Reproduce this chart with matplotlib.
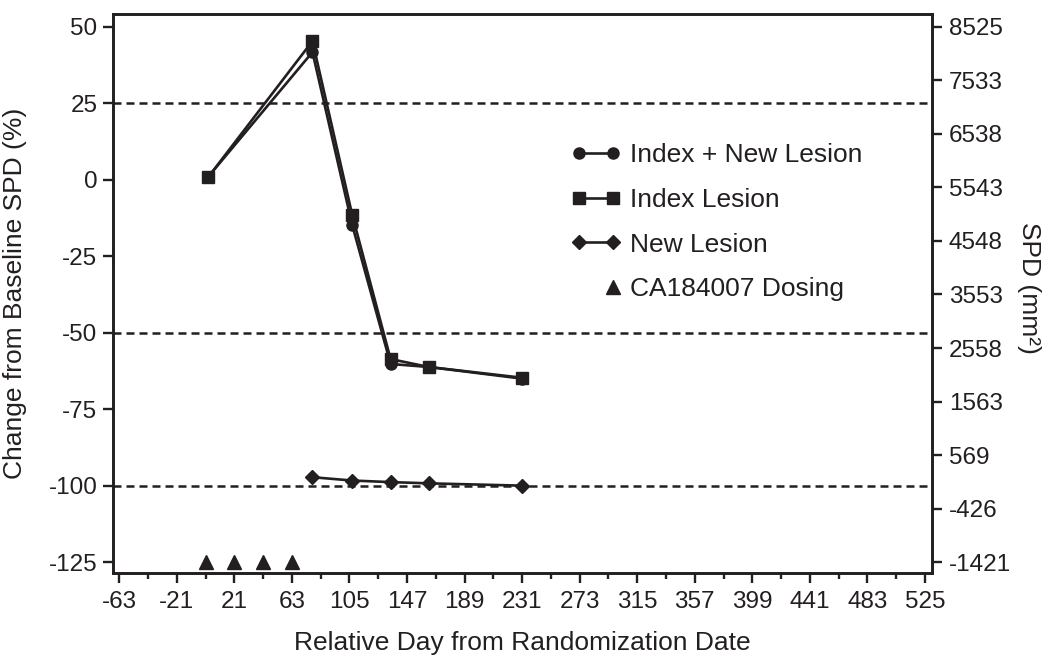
"""Change from baseline SPD over time, with SPD on a second axis."""
import matplotlib
matplotlib.use("Agg")
import matplotlib.pyplot as plt
from matplotlib.legend_handler import HandlerLine2D

plt.rcParams['font.family'] = ['Liberation Sans', 'DejaVu Sans']
plt.rcParams['axes.unicode_minus'] = False

INK = '#231f20'

# values
days = [2, 78, 107, 135, 163, 231]
index_new_pct = [1.0, 41.7, -14.8, -60.2, -61.2, -65.0]
index_pct = [0.9, 45.3, -11.5, -58.6, -61.2, -64.7]

new_days = [78, 107, 135, 163, 231]
new_spd = [159, 97, 68, 45, 2]  # mm^2, right axis

dosing_days = [0, 21, 42, 63]
dosing_level = -125

baseline_spd = 5683.33  # SPD that corresponds to 0 % change

x_ticks = list(range(-63, 526, 42))
pct_ticks = [50, 25, 0, -25, -50, -75, -100, -125]
spd_ticks = [8525, 7533, 6538, 5543, 4548, 3553, 2558, 1563, 569, -426, -1421]
ref_lines = [25, -50, -100]


class RightMarker(HandlerLine2D):
    # single marker at the right end of the legend handle
    def get_xdata(self, legend, xdescent, ydescent, width, height, fontsize):
        x = -xdescent + width - self._marker_pad * fontsize
        return [x], [x]


fig = plt.figure(figsize=(10.58, 6.6), dpi=100)
ax = fig.add_axes([0.1065, 0.1323, 0.7744, 0.8465])
ax2 = ax.twinx()

ylim = (-128.4, 54.15)
ax.set_xlim(-67.8, 530.1)
ax.set_ylim(*ylim)
ax2.set_ylim(baseline_spd * (1 + ylim[0] / 100), baseline_spd * (1 + ylim[1] / 100))

for y in ref_lines:
    ax.axhline(y, color=INK, lw=1.8, linestyle=(0, (3.2, 2.0)), zorder=1)

l1, = ax.plot(days, index_new_pct, color=INK, lw=1.9, marker='o', ms=8,
              label='Index + New Lesion', zorder=3)
l2, = ax.plot(days, index_pct, color=INK, lw=1.9, marker='s', ms=8.6,
              label='Index Lesion', zorder=3)
l3, = ax2.plot(new_days, new_spd, color=INK, lw=1.9, marker='D', ms=7.2,
               label='New Lesion', zorder=3)
l4, = ax.plot(dosing_days, [dosing_level] * len(dosing_days), color=INK,
              linestyle='none', marker='^', ms=9.5, label='CA184007 Dosing', zorder=3)

ax.set_xticks(x_ticks)
ax.set_xticks([x + 21 for x in x_ticks[:-1]], minor=True)
ax.set_yticks(pct_ticks)
ax2.set_yticks(spd_ticks)
ax2.set_yticklabels([str(v) for v in spd_ticks])

for a in (ax, ax2):
    for s in a.spines.values():
        s.set_linewidth(1.9)
        s.set_color(INK)
ax.tick_params(axis='both', which='major', length=7, width=1.7, colors=INK,
               labelsize=17.5, pad=4)
ax.tick_params(axis='x', which='minor', length=4.5, width=1.7, colors=INK)
ax.tick_params(axis='x', pad=6)
ax2.tick_params(axis='y', length=7, width=1.7, colors=INK, labelsize=17.5, pad=5)

ax.set_xlabel('Relative Day from Randomization Date', fontsize=19, color=INK)
ax.set_ylabel('Change from Baseline SPD (%)', fontsize=19, color=INK)
ax2.set_ylabel('SPD (mm²)', fontsize=19, color=INK, rotation=270)
ax.xaxis.set_label_coords(0.5, -0.1255)
ax.xaxis.label.set_va('center')
ax.yaxis.set_label_coords(-0.119, 0.5)
ax.yaxis.label.set_va('center')
ax2.yaxis.set_label_coords(1.118, 0.51)
ax2.yaxis.label.set_va('center')

leg = ax2.legend(handles=[l1, l2, l3, l4], loc='upper left',
                 bbox_to_anchor=(0.5395, 0.7835), bbox_transform=fig.transFigure,
                 frameon=False, fontsize=19, borderpad=0, borderaxespad=0,
                 numpoints=2, handlelength=1.9, handletextpad=0.35,
                 labelspacing=0.79, handler_map={l4: RightMarker()})
for t in leg.get_texts():
    t.set_color(INK)

plt.savefig('out.png', dpi=100)
print("Saved out.png")
